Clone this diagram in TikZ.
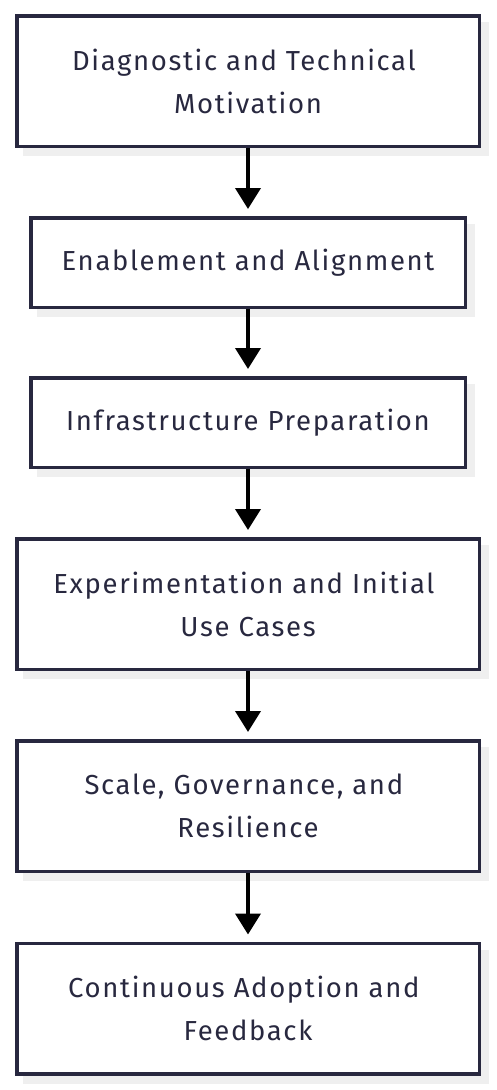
\documentclass[tikz,border=0pt]{standalone}
\usepackage{fontspec}
\setmainfont{Fira Sans}[LetterSpace=6]
\usetikzlibrary{arrows.meta,backgrounds}
\definecolor{ink}{HTML}{28283F}
\definecolor{shade}{HTML}{EFEFEF}
\tikzset{
  stage/.style={draw=ink, line width=3.5pt, fill=white, text=ink, align=center,
    inner sep=0pt, font=\fontsize{27.5pt}{43pt}\selectfont},
  wide/.style={stage, minimum width=462.5pt, minimum height=130.5pt},
  narrow/.style={stage, minimum width=434.5pt, minimum height=89.5pt},
  flow/.style={draw=black, line width=4pt, -{Triangle[width=25pt,length=21pt]}, shorten >=7pt},
  shadowbox/.style={fill=shade}
}
\newcommand{\trail}{\kern0.3em}
\begin{document}
\begin{tikzpicture}[x=1pt,y=-1pt]
  \useasboundingbox (0,0) rectangle (496,1090);
  \node[wide]   (b1) at (248,81)    {Diagnostic and Technical\trail\\Motivation};
  \node[narrow] (b2) at (248,262.5) {Enablement and Alignment};
  \node[narrow] (b3) at (248,422.5) {Infrastructure Preparation};
  \node[wide]   (b4) at (248,604)   {Experimentation and Initial\trail\\Use Cases};
  \node[wide]   (b5) at (248,806)   {Scale, Governance, and\trail\\Resilience};
  \node[wide]   (b6) at (248,1008.5){Continuous Adoption and\trail\\Feedback};
  \begin{scope}[on background layer]
    \foreach \b in {b1,b2,b3,b4,b5,b6}
      \fill[shadowbox] ([shift={(8pt,-8pt)}]\b.south west) rectangle ([shift={(8pt,-8pt)}]\b.north east);
  \end{scope}
  \draw[flow] (b1.south) -- (b2.north);
  \draw[flow] (b2.south) -- (b3.north);
  \draw[flow] (b3.south) -- (b4.north);
  \draw[flow] (b4.south) -- (b5.north);
  \draw[flow] (b5.south) -- (b6.north);
\end{tikzpicture}
\end{document}
